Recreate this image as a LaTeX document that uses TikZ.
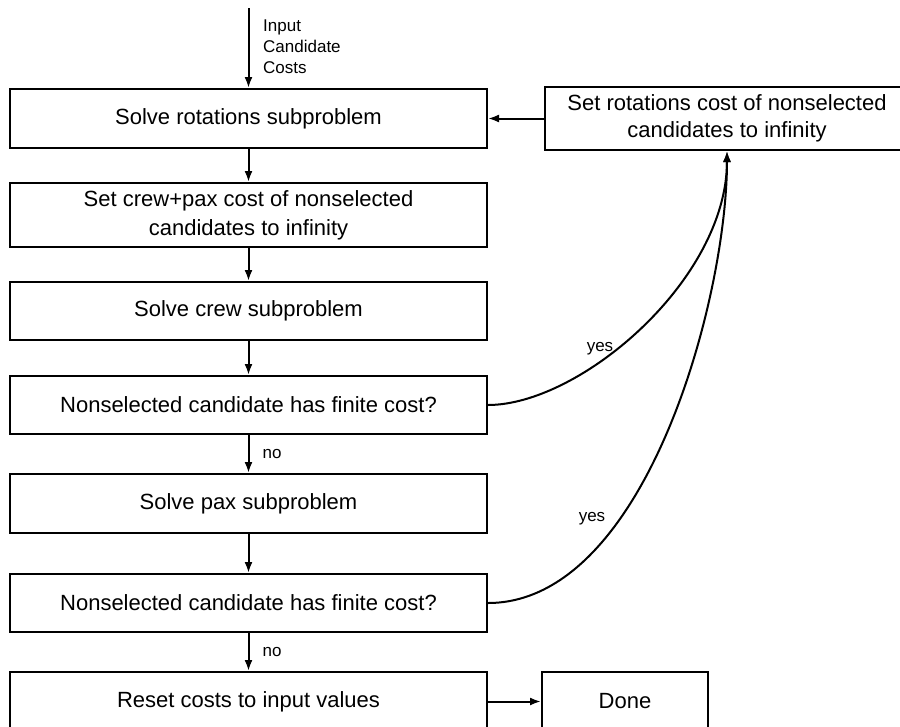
\documentclass[tikz,border=0pt]{standalone}
\usepackage{fontspec}
\setmainfont{Liberation Sans}
\usetikzlibrary{arrows.meta}
\begin{document}
\begin{tikzpicture}[x=1pt,y=-1pt,
  box/.style={draw, line width=2pt, rectangle, inner sep=0pt, align=center,
    font=\fontsize{22}{29}\selectfont},
  mainbox/.style={box, minimum width=477pt},
  flow/.style={line width=2pt, -{Latex[length=11pt,width=8pt]}},
  lbl/.style={font=\fontsize{17}{21}\selectfont, inner sep=0pt}]
\clip (0,0) rectangle (900,726);

% main column of steps
\node[mainbox, minimum height=59pt] (rot)   at (248.5,118.5) {Solve rotations subproblem};
\node[mainbox, minimum height=64pt] (setcp) at (248.5,215)   {Set crew+pax cost of nonselected\\candidates to infinity};
\node[mainbox, minimum height=58pt] (crew)  at (248.5,311)   {Solve crew subproblem};
\node[mainbox, minimum height=58pt] (chk1)  at (248.5,405)   {Nonselected candidate has finite cost?};
\node[mainbox, minimum height=59pt] (pax)   at (248.5,503.5) {Solve pax subproblem};
\node[mainbox, minimum height=58pt] (chk2)  at (248.5,603)   {Nonselected candidate has finite cost?};
\node[mainbox, minimum height=59pt] (reset) at (248.5,701.5) {Reset costs to input values};

% side boxes
\node[box, minimum width=364pt, minimum height=63pt, font=\fontsize{22}{26.5}\selectfont]
  (setrot) at (727,118.5) {Set rotations cost of nonselected\\candidates to infinity};
\node[box, minimum width=166pt, minimum height=59pt] (done) at (625,701.5) {Done};

% input
\coordinate (start) at (248.5,8);
\draw[flow] (start) -- (rot);
\node[lbl, align=left, anchor=west] (inlbl) at (263,47) {Input\\Candidate\\Costs};

% straight flow
\draw[flow] (rot) -- (setcp);
\draw[flow] (setcp) -- (crew);
\draw[flow] (crew) -- (chk1);
\draw[flow] (chk1) -- (pax);
\draw[flow] (pax) -- (chk2);
\draw[flow] (chk2) -- (reset);
\draw[flow] (reset) -- (done);
\draw[flow] (setrot) -- (rot);

\node[lbl] (no1) at (272,454) {no};
\node[lbl] (no2) at (272,652) {no};

% loop-backs
\draw[flow] (chk1.east) .. controls (580,405) and (727,280) .. (setrot.south);
\draw[flow] (chk2.east) .. controls (645,603) and (727,300) .. (setrot.south);
\node[lbl] (yes1) at (600,349) {yes};
\node[lbl] (yes2) at (592,519) {yes};
\end{tikzpicture}
\end{document}
